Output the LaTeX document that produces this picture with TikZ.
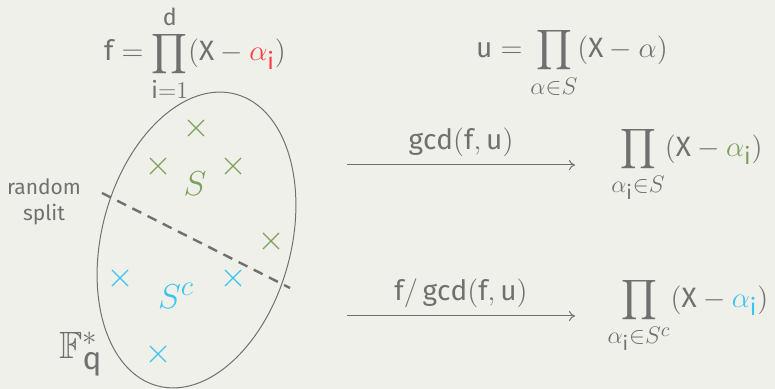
\documentclass[tikz,border=0pt]{standalone}
\usepackage{amssymb}
\usepackage{fontspec}
\setmainfont{Fira Sans}
\usepackage[basic]{mathastext}
\usetikzlibrary{arrows.meta,shapes.misc}
\DeclareMathAlphabet{\mathcmit}{OML}{cmm}{m}{it}
\definecolor{bg}{HTML}{F0F0EB}
\definecolor{ink}{HTML}{707070}
\definecolor{redc}{HTML}{FF3B3B}
\definecolor{greenc}{HTML}{7DA05A}
\definecolor{cyanc}{HTML}{3CC4EE}
\newcommand{\Sset}{\mathcmit{S}}
\newcommand{\Scompl}{\mathcmit{S}^{\mathcmit{c}}}
\begin{document}
\begin{tikzpicture}[x=0.5pt,y=-0.5pt,
  mathlbl/.style={text=ink, font=\fontsize{14}{16}\selectfont, inner sep=0pt},
  textlbl/.style={text=ink, font=\fontsize{10.5}{13}\selectfont, align=center, inner sep=0pt},
  setlbl/.style={font=\fontsize{16}{18}\selectfont, inner sep=0pt},
  elem/.style={cross out, draw=#1, line width=0.55pt, minimum size=7.5pt, inner sep=0pt},
  conn/.style={draw=ink, line width=0.5pt, -{To[length=3pt,width=5pt]}},
  splitline/.style={draw=ink, line width=1.2pt, dash pattern=on 5pt off 3.5pt}
]
\fill[bg] (0,0) rectangle (775,389);
\useasboundingbox (0,0) rectangle (775,389);

% top formulas
\node[mathlbl] (f) at (195,53.5) {$\displaystyle f=\prod_{i=1}^{d}(X-\textcolor{redc}{\alpha_i})$};
\node[mathlbl] (u) at (572,63) {$\displaystyle u=\prod_{\alpha\in \Sset}(X-\alpha)$};

% the set
\draw[ink, line width=0.5pt, rotate around={-15:(196.5,240)}] (196.5,240) ellipse [x radius=47.3pt, y radius=75.5pt];
\coordinate (ds) at (102,193);
\coordinate (de) at (290,288);
\draw[splitline] (ds) -- (de);

\node[elem=greenc] (g1) at (196,128) {};
\node[elem=greenc] (g2) at (158,166) {};
\node[elem=greenc] (g3) at (233,166) {};
\node[elem=greenc] (g4) at (271,241) {};
\node[elem=cyanc] (c1) at (120,278) {};
\node[elem=cyanc] (c2) at (233,278) {};
\node[elem=cyanc] (c3) at (158,354) {};

\node[setlbl, text=greenc] (S) at (195,184) {$\Sset$};
\node[setlbl, text=cyanc] (Sc) at (176,296) {$\Scompl$};
\node[text=ink, font=\fontsize{19}{21}\selectfont, inner sep=0pt] (F) at (81,354) {$\mathbb{F}_q^*$};
\node[textlbl] (rs) at (44,202) {random\\split};

% arrows
\coordinate (a1s) at (347,165);
\coordinate (a1e) at (575,165);
\coordinate (a2s) at (347,316);
\coordinate (a2e) at (575,316);
\draw[conn] (a1s) -- node[mathlbl, above=4pt] (l1) {$\gcd(f,u)$} (a1e);
\draw[conn] (a2s) -- node[mathlbl, above=4pt] (l2) {$f/\gcd(f,u)$} (a2e);

\node[mathlbl] (r1) at (687,164.5) {$\displaystyle\prod_{\alpha_i\in \Sset}(X-\textcolor{greenc}{\alpha_i})$};
\node[mathlbl] (r2) at (688,315.5) {$\displaystyle\prod_{\alpha_i\in \Scompl}(X-\textcolor{cyanc}{\alpha_i})$};
\end{tikzpicture}
\end{document}
